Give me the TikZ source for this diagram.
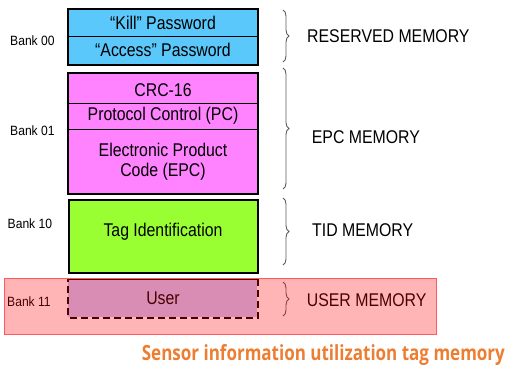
\documentclass[tikz,border=0pt]{standalone}
\usepackage{fontspec}
\setmainfont{Liberation Sans}
\newfontfamily\boxfont[FakeStretch=0.86]{Liberation Sans}
\newfontfamily\bankfont[FakeStretch=0.9]{Liberation Sans}
\newfontfamily\titlefont{Open Sans}
\usetikzlibrary{decorations.pathreplacing,fit}
\definecolor{bankblue}{RGB}{90,200,250}
\definecolor{bankpink}{RGB}{255,130,255}
\definecolor{bankgreen}{RGB}{153,255,51}
\definecolor{banklav}{RGB}{202,200,255}
\definecolor{overlayred}{RGB}{255,0,0}
\definecolor{overlayborder}{RGB}{255,90,90}
\definecolor{titleorange}{RGB}{237,125,49}
\definecolor{bracegray}{RGB}{90,90,90}
\begin{document}
\begin{tikzpicture}[x=1bp,y=-1bp,
  section/.style={draw=black, line width=0.8bp, minimum width=189bp, inner sep=0pt, anchor=north west},
  outerbox/.style={draw=black, line width=2.4bp, inner sep=0pt},
  boxtext/.style={inner sep=0pt, align=center, font=\boxfont\fontsize{18.5}{22}\selectfont},
  banklabel/.style={anchor=west, inner sep=0pt, font=\bankfont\fontsize{13.5}{15}\selectfont},
  memlabel/.style={anchor=west, inner sep=0pt, font=\boxfont\fontsize{18.5}{22}\selectfont},
  bracestyle/.style={draw=bracegray, line width=0.9bp, decorate, decoration={brace, amplitude=6bp}}]
\useasboundingbox (0,0) rectangle (508,365);

% Bank 00
\node[section, fill=bankblue, minimum height=27bp] (kill) at (68,9) {};
\node[section, fill=bankblue, minimum height=28bp] (access) at (68,36) {};
\node[outerbox, fit=(kill)(access)] (b00) {};
\node[boxtext] (killtext) at (163,22.5) {“Kill” Password};
\node[boxtext] (accesstext) at (163,49.5) {“Access” Password};

% Bank 01
\node[section, fill=bankpink, minimum height=30bp] (crc) at (68,73) {};
\node[section, fill=bankpink, minimum height=26bp] (pc) at (68,103) {};
\node[section, fill=bankpink, minimum height=64bp] (epc) at (68,129) {};
\node[outerbox, fit=(crc)(epc)] (b01) {};
\node[boxtext] (crctext) at (163,90) {CRC-16};
\node[boxtext] (pctext) at (163,115.5) {Protocol Control (PC)};
\node[boxtext] (epctext1) at (163,150) {Electronic Product};
\node[boxtext] (epctext2) at (163,172) {Code (EPC)};

% Bank 10
\node[section, fill=bankgreen, minimum height=73bp, line width=2.4bp] (tid) at (68,199) {};
\node[boxtext] (tidtext) at (163,232) {Tag Identification};

% Bank 11
\node[section, fill=banklav, minimum height=38bp, draw=none] (user) at (68,279) {};
\node[boxtext] (usertext) at (163,298.5) {User};
\draw[line width=2.4bp, dash pattern=on 7bp off 4bp] (user.north east) -- (user.south east) -- (user.south west) -- (user.north west);
\draw[line width=2.4bp] (user.north west) -- (user.north east);

% bank labels
\node[banklabel] (l00) at (10,41) {Bank 00};
\node[banklabel] (l01) at (10,131) {Bank 01};
\node[banklabel] (l10) at (7.5,224) {Bank 10};
\node[banklabel] (l11) at (7,301.5) {Bank 11};

% braces
\coordinate (r1) at (283,10); \coordinate (r2) at (283,62);
\coordinate (e1) at (283,68); \coordinate (e2) at (283,189);
\coordinate (t1) at (283,198); \coordinate (t2) at (283,265);
\coordinate (u1) at (283,282); \coordinate (u2) at (283,316);
\draw[bracestyle] (r1) -- (r2);
\draw[bracestyle] (e1) -- (e2);
\draw[bracestyle] (t1) -- (t2);
\draw[bracestyle] (u1) -- (u2);

\node[memlabel] (reserved) at (307,36.3) {RESERVED MEMORY};
\node[memlabel] (epcmem) at (311.7,137) {EPC MEMORY};
\node[memlabel] (tidmem) at (312,230) {TID MEMORY};
\node[memlabel] (usermem) at (306.7,300) {USER MEMORY};

% overlay
\fill[overlayred, fill opacity=0.29] (4,278) rectangle (436,334);
\draw[overlayborder, line width=0.9bp] (4,278) rectangle (436,334);

% title
\node[text=titleorange, inner sep=0pt, anchor=base] (title) at (323.4,360)
  {\resizebox{363bp}{16bp}{\titlefont\bfseries Sensor information utilization tag memory}};
\end{tikzpicture}
\end{document}
